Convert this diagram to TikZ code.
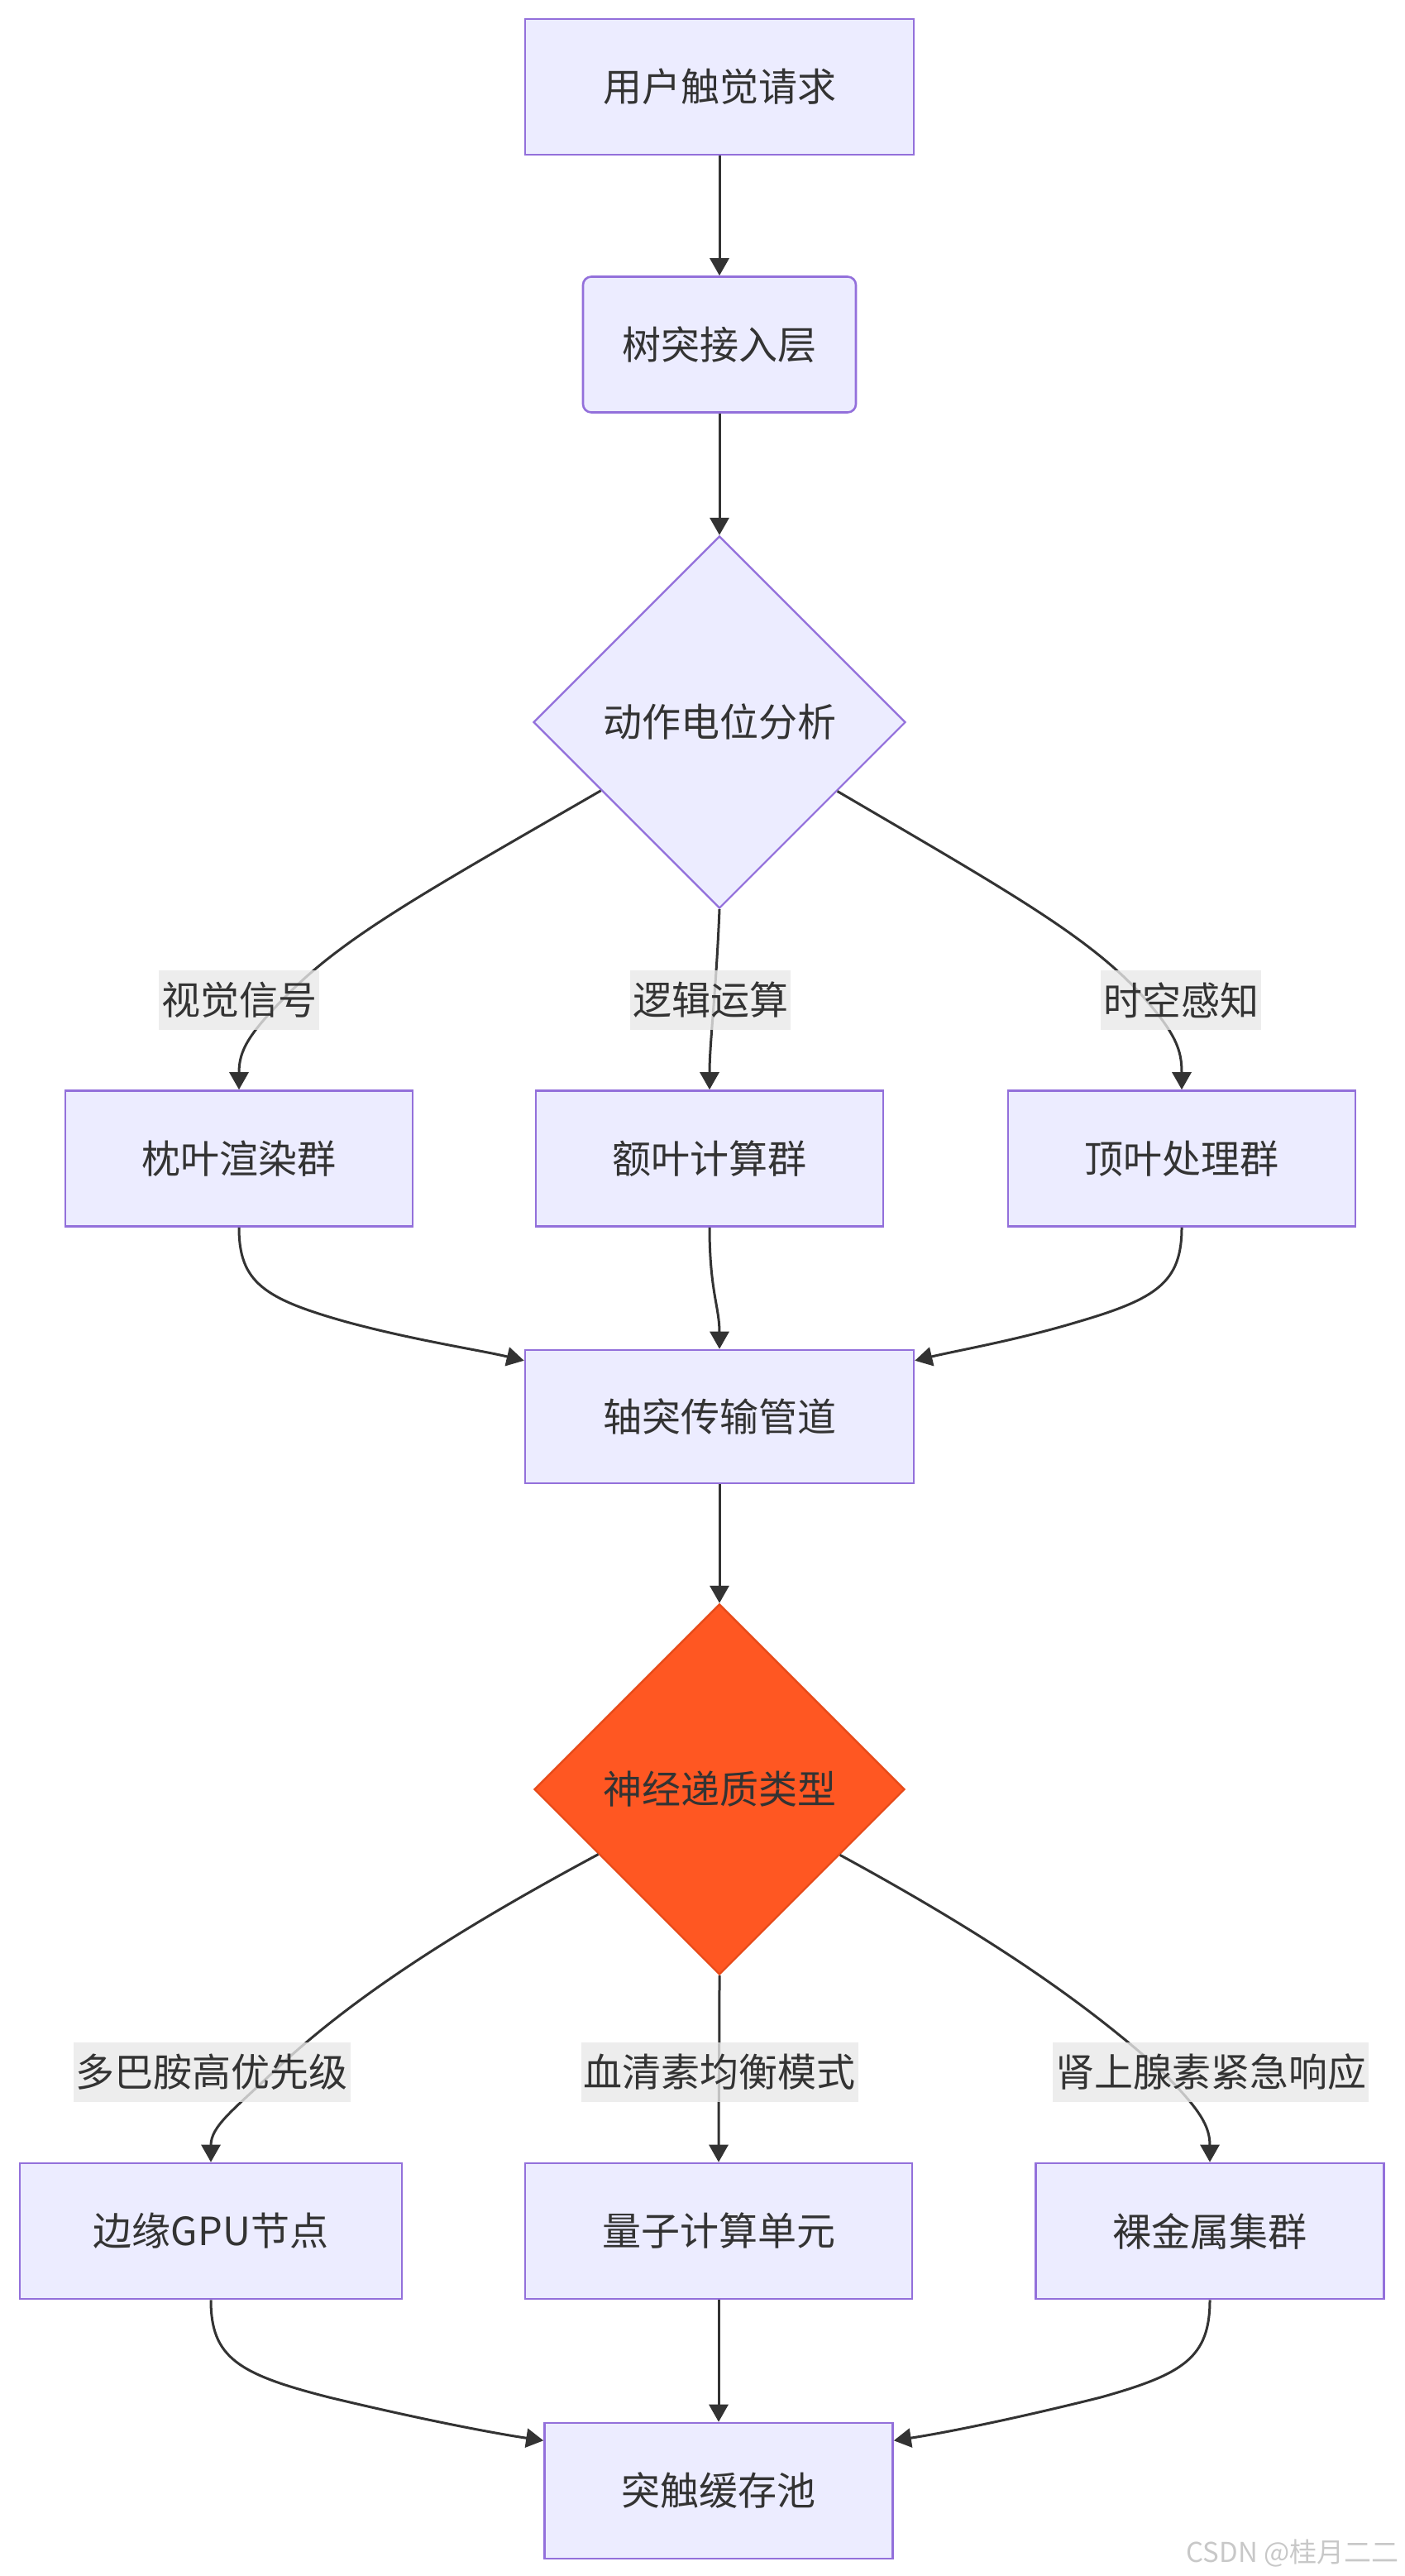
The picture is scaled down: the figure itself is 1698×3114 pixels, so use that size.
\documentclass[tikz,border=0pt]{standalone}
\usepackage{fontspec}
\setmainfont{Noto Sans CJK SC}
\usetikzlibrary{shapes.geometric,arrows.meta}
\definecolor{nfill}{HTML}{ECECFF}
\definecolor{nstroke}{HTML}{9370DB}
\definecolor{txt}{HTML}{333333}
\definecolor{lbl}{HTML}{E8E8E8}
\definecolor{ofill}{HTML}{FF5722}
\definecolor{ostroke}{HTML}{E64A19}
\definecolor{wmark}{HTML}{C8C8C8}
\begin{document}
\begin{tikzpicture}[x=0.5pt,y=-0.5pt,
  box/.style={draw=nstroke,fill=nfill,line width=1.3pt,minimum height=82pt,text=txt,
    font=\fontsize{23.5}{28}\selectfont,inner sep=0pt},
  rbox/.style={box,rounded corners=5pt},
  dia/.style={shape=diamond,draw=nstroke,fill=nfill,line width=1.1pt,minimum width=225pt,
    minimum height=225pt,inner sep=0pt,text=txt,font=\fontsize{23.5}{28}\selectfont},
  odia/.style={dia,draw=ostroke,fill=ofill},
  elabel/.style={fill=lbl,fill opacity=0.8,text opacity=1,text=txt,minimum height=36pt,
    inner xsep=1.5pt,inner ysep=0pt,font=\fontsize{23.5}{28}\selectfont},
  edge/.style={draw=txt,line width=1.5pt,-{Triangle[length=10.5pt,width=11.5pt]}}]
\useasboundingbox (0,0) rectangle (1698,3114);

% nodes
\node[box,minimum width=235pt] (n1) at (870,105) {用户触觉请求};
\node[rbox,minimum width=165pt] (n2) at (870,416.5) {树突接入层};
\node[dia] (d1) at (870,873) {动作电位分析};
\node[box,minimum width=210pt] (b1) at (289,1400.5) {枕叶渲染群};
\node[box,minimum width=210pt] (b2) at (858,1400.5) {额叶计算群};
\node[box,minimum width=210pt] (b3) at (1429,1400.5) {顶叶处理群};
\node[box,minimum width=235pt,minimum height=80.5pt] (n5) at (870,1712.5) {轴突传输管道};
\node[odia,minimum width=224pt,minimum height=224pt] (d2) at (870,2163) {神经递质类型};
\node[box,minimum width=231pt] (e1) at (255,2697) {边缘GPU节点};
\node[box,minimum width=234pt] (e2) at (869,2697) {量子计算单元};
\node[box,minimum width=210.5pt] (e3) at (1463,2697) {裸金属集群};
\node[box,minimum width=210.5pt] (n9) at (869,3011) {突触缓存池};

% edges
\draw[edge] (n1) -- (n2);
\draw[edge] (n2) -- (d1);
\draw[edge] (d1) .. controls (520,1075) and (420,1130) .. (350,1200)
   .. controls (300,1250) and (289,1270) .. (b1.north);
\draw[edge] (d1.south) .. controls (866,1200) and (858,1260) .. (b2.north);
\draw[edge] (d1) .. controls (1215,1075) and (1313,1130) .. (1378,1200)
   .. controls (1423,1250) and (1429,1270) .. (b3.north);

\draw[edge] (b1.south) .. controls (289,1550) and (319,1570) .. (419,1598)
   .. controls (500,1620) and (580,1632) .. (n5.164);
\draw[edge] (b2.south) .. controls (858,1560) and (870,1580) .. (n5.north);
\draw[edge] (b3.south) .. controls (1429,1550) and (1399,1570) .. (1303,1598)
   .. controls (1230,1620) and (1160,1632) .. (n5.16);

\draw[edge] (n5) -- (d2);

\draw[edge] (d2) .. controls (540,2340) and (420,2420) .. (330,2505)
   .. controls (283,2550) and (255,2570) .. (e1.north);
\draw[edge] (d2.south) .. controls (870,2480) and (869,2540) .. (e2.north);
\draw[edge] (d2) .. controls (1195,2340) and (1312,2420) .. (1406,2505)
   .. controls (1451,2550) and (1463,2570) .. (e3.north);

\draw[edge] (e1.south) .. controls (255,2850) and (288,2870) .. (398,2898)
   .. controls (498,2922) and (588,2940) .. (n9.164);
\draw[edge] (e2.south) -- (n9.north);
\draw[edge] (e3.south) .. controls (1463,2850) and (1431,2870) .. (1331,2898)
   .. controls (1235,2922) and (1148,2940) .. (n9.16);

% edge labels
\node[elabel] (l1) at (289,1209) {视觉信号};
\node[elabel] (l2) at (859,1209) {逻辑运算};
\node[elabel] (l3) at (1428,1209) {时空感知};
\node[elabel] (l4) at (256,2505) {多巴胺高优先级};
\node[elabel] (l5) at (870,2505) {血清素均衡模式};
\node[elabel] (l6) at (1464,2505) {肾上腺素紧急响应};

% watermark
\node[text=wmark,font=\fontsize{16.5}{19}\selectfont,anchor=east,inner sep=0pt] (wm) at (1692,3086) {CSDN @桂月二二};
\end{tikzpicture}
\end{document}
